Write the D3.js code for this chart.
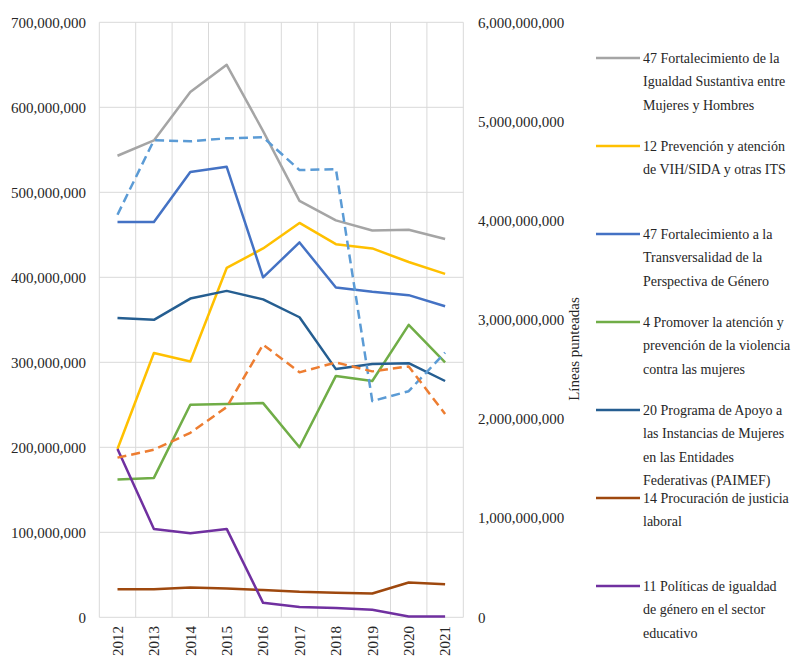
<!DOCTYPE html>
<html><head><meta charset="utf-8">
<script src="https://cdn.jsdelivr.net/npm/d3@7"></script>
<style>
body{margin:0;background:#fff}
</style>
</head><body>
<svg id="c" width="798" height="661"></svg>
<script>
// ---- data ----
const years = ["2012","2013","2014","2015","2016","2017","2018","2019","2020","2021"];
const leftTicks = [0,100e6,200e6,300e6,400e6,500e6,600e6,700e6];
const rightTicks = [0,1e9,2e9,3e9,4e9,5e9,6e9];

const sIgualdad      = [543e6,561e6,618e6,650e6,572e6,490e6,467e6,455e6,456e6,445e6];
const sVIH           = [198e6,311e6,301e6,411e6,434e6,464e6,439e6,434e6,418e6,404e6];
const sTransversal   = [465e6,465e6,524e6,530e6,400e6,441e6,388e6,383e6,379e6,366e6];
const sViolencia     = [162e6,164e6,250e6,251e6,252e6,200e6,284e6,278e6,344e6,300e6];
const sPAIMEF        = [352e6,350e6,375e6,384e6,374e6,353e6,292e6,298e6,299e6,278e6];
const sJusticia      = [33e6,33e6,35e6,34e6,32e6,30e6,29e6,28e6,41e6,39e6];
const sEducativo     = [198e6,104e6,99e6,104e6,17e6,12e6,11e6,9e6,1e6,1e6];
const dashBlue       = [4.06e9,4.81e9,4.80e9,4.83e9,4.84e9,4.51e9,4.52e9,2.18e9,2.28e9,2.67e9];
const dashOrange     = [1.61e9,1.69e9,1.86e9,2.12e9,2.75e9,2.47e9,2.57e9,2.48e9,2.53e9,2.05e9];

const legendLabels = [
  ["47 Fortalecimiento de la","Igualdad Sustantiva entre","Mujeres y Hombres"],
  ["12 Prevención y atención","de VIH/SIDA y otras ITS"],
  ["47 Fortalecimiento a la","Transversalidad de la","Perspectiva de Género"],
  ["4 Promover la atención y","prevención de la violencia","contra las mujeres"],
  ["20 Programa de Apoyo a","las Instancias de Mujeres","en las Entidades","Federativas (PAIMEF)"],
  ["14 Procuración de justicia","laboral"],
  ["11 Políticas de igualdad","de género en el sector","educativo"]
];
const rightTitle = "Líneas punteadas";

// ---- series config ----
const solidSeries = [
  {values:sIgualdad,    color:"#A5A5A5"},
  {values:sVIH,         color:"#FFC000"},
  {values:sTransversal, color:"#4472C4"},
  {values:sViolencia,   color:"#70AD47"},
  {values:sPAIMEF,      color:"#255E91"},
  {values:sJusticia,    color:"#9E480E"},
  {values:sEducativo,   color:"#7030A0"}
];
const dashedSeries = [
  {values:dashBlue,   color:"#5B9BD5"},
  {values:dashOrange, color:"#ED7D31"}
];

const FONT = "Liberation Serif";
const TXT = "#262626";
const svg = d3.select("#c");
const L = 99.3, R = 463.3, T = 22.3, B = 617.3;

const x = d3.scaleBand().domain(years).range([L,R]);
const yL = d3.scaleLinear().domain([0,700e6]).range([B,T]);
const yR = d3.scaleLinear().domain([0,6e9]).range([B,T]);
const fmt = d3.format(",");

// grid
const grid = svg.append("g").attr("stroke","#D9D9D9").attr("stroke-width",1);
leftTicks.forEach(t=>{
  grid.append("line").attr("x1",L).attr("x2",R).attr("y1",yL(t)).attr("y2",yL(t));
});
const bounds = years.map(d=>x(d)).concat([R]);
bounds.forEach(bx=>{
  grid.append("line").attr("x1",bx).attr("x2",bx).attr("y1",T).attr("y2",B);
});

// left axis labels
svg.append("g").selectAll("text").data(leftTicks).join("text")
  .attr("font-family",FONT).attr("fill",TXT)
  .attr("x",86).attr("y",d=>yL(d)).attr("dy","0.35em")
  .attr("text-anchor","end").attr("font-size",15).text(d=>fmt(d));

// right axis labels
svg.append("g").selectAll("text").data(rightTicks).join("text")
  .attr("font-family",FONT).attr("fill",TXT)
  .attr("x",478).attr("y",d=>yR(d)).attr("dy","0.35em")
  .attr("text-anchor","start").attr("font-size",15).text(d=>fmt(d));

// right title
svg.append("text").attr("transform","translate(579,349) rotate(-90)")
  .attr("font-family",FONT).attr("fill",TXT)
  .attr("text-anchor","middle").attr("font-size",15).text(rightTitle);

// x labels
svg.append("g").selectAll("text").data(years).join("text")
  .attr("font-family",FONT).attr("fill",TXT)
  .attr("transform",d=>`translate(${x(d)+x.bandwidth()/2},626) rotate(-90)`)
  .attr("dy","0.35em").attr("text-anchor","end").attr("font-size",15).text(d=>d);

// lines
const cx = (d,i)=>x(years[i])+x.bandwidth()/2;
const lineL = d3.line().x(cx).y(d=>yL(d));
const lineR = d3.line().x(cx).y(d=>yR(d));
solidSeries.forEach(s=>{
  svg.append("path").datum(s.values).attr("d",lineL)
    .attr("fill","none").attr("stroke",s.color).attr("stroke-width",2.5)
    .attr("stroke-linejoin","round");
});
dashedSeries.forEach(s=>{
  svg.append("path").datum(s.values).attr("d",lineR)
    .attr("fill","none").attr("stroke",s.color).attr("stroke-width",2.5)
    .attr("stroke-dasharray","9,5").attr("stroke-linejoin","round");
});

// legend
const lg = svg.append("g");
legendLabels.forEach((lines,i)=>{
  const y0 = 58 + i*88;
  lg.append("line").attr("x1",596).attr("x2",640).attr("y1",y0).attr("y2",y0)
    .attr("stroke",solidSeries[i].color).attr("stroke-width",2.5);
  lines.forEach((ln,j)=>{
    const t = lg.append("text").attr("font-family",FONT).attr("fill",TXT).attr("font-size",14)
      .attr("x",643).attr("y",y0+j*23.5).attr("dy","0.35em").text(ln);
    const w = t.node().getComputedTextLength();
    const maxW = 798 - 643 - 4;
    if (w > maxW) t.attr("textLength",maxW).attr("lengthAdjust","spacingAndGlyphs");
  });
});
</script>
</body></html>
